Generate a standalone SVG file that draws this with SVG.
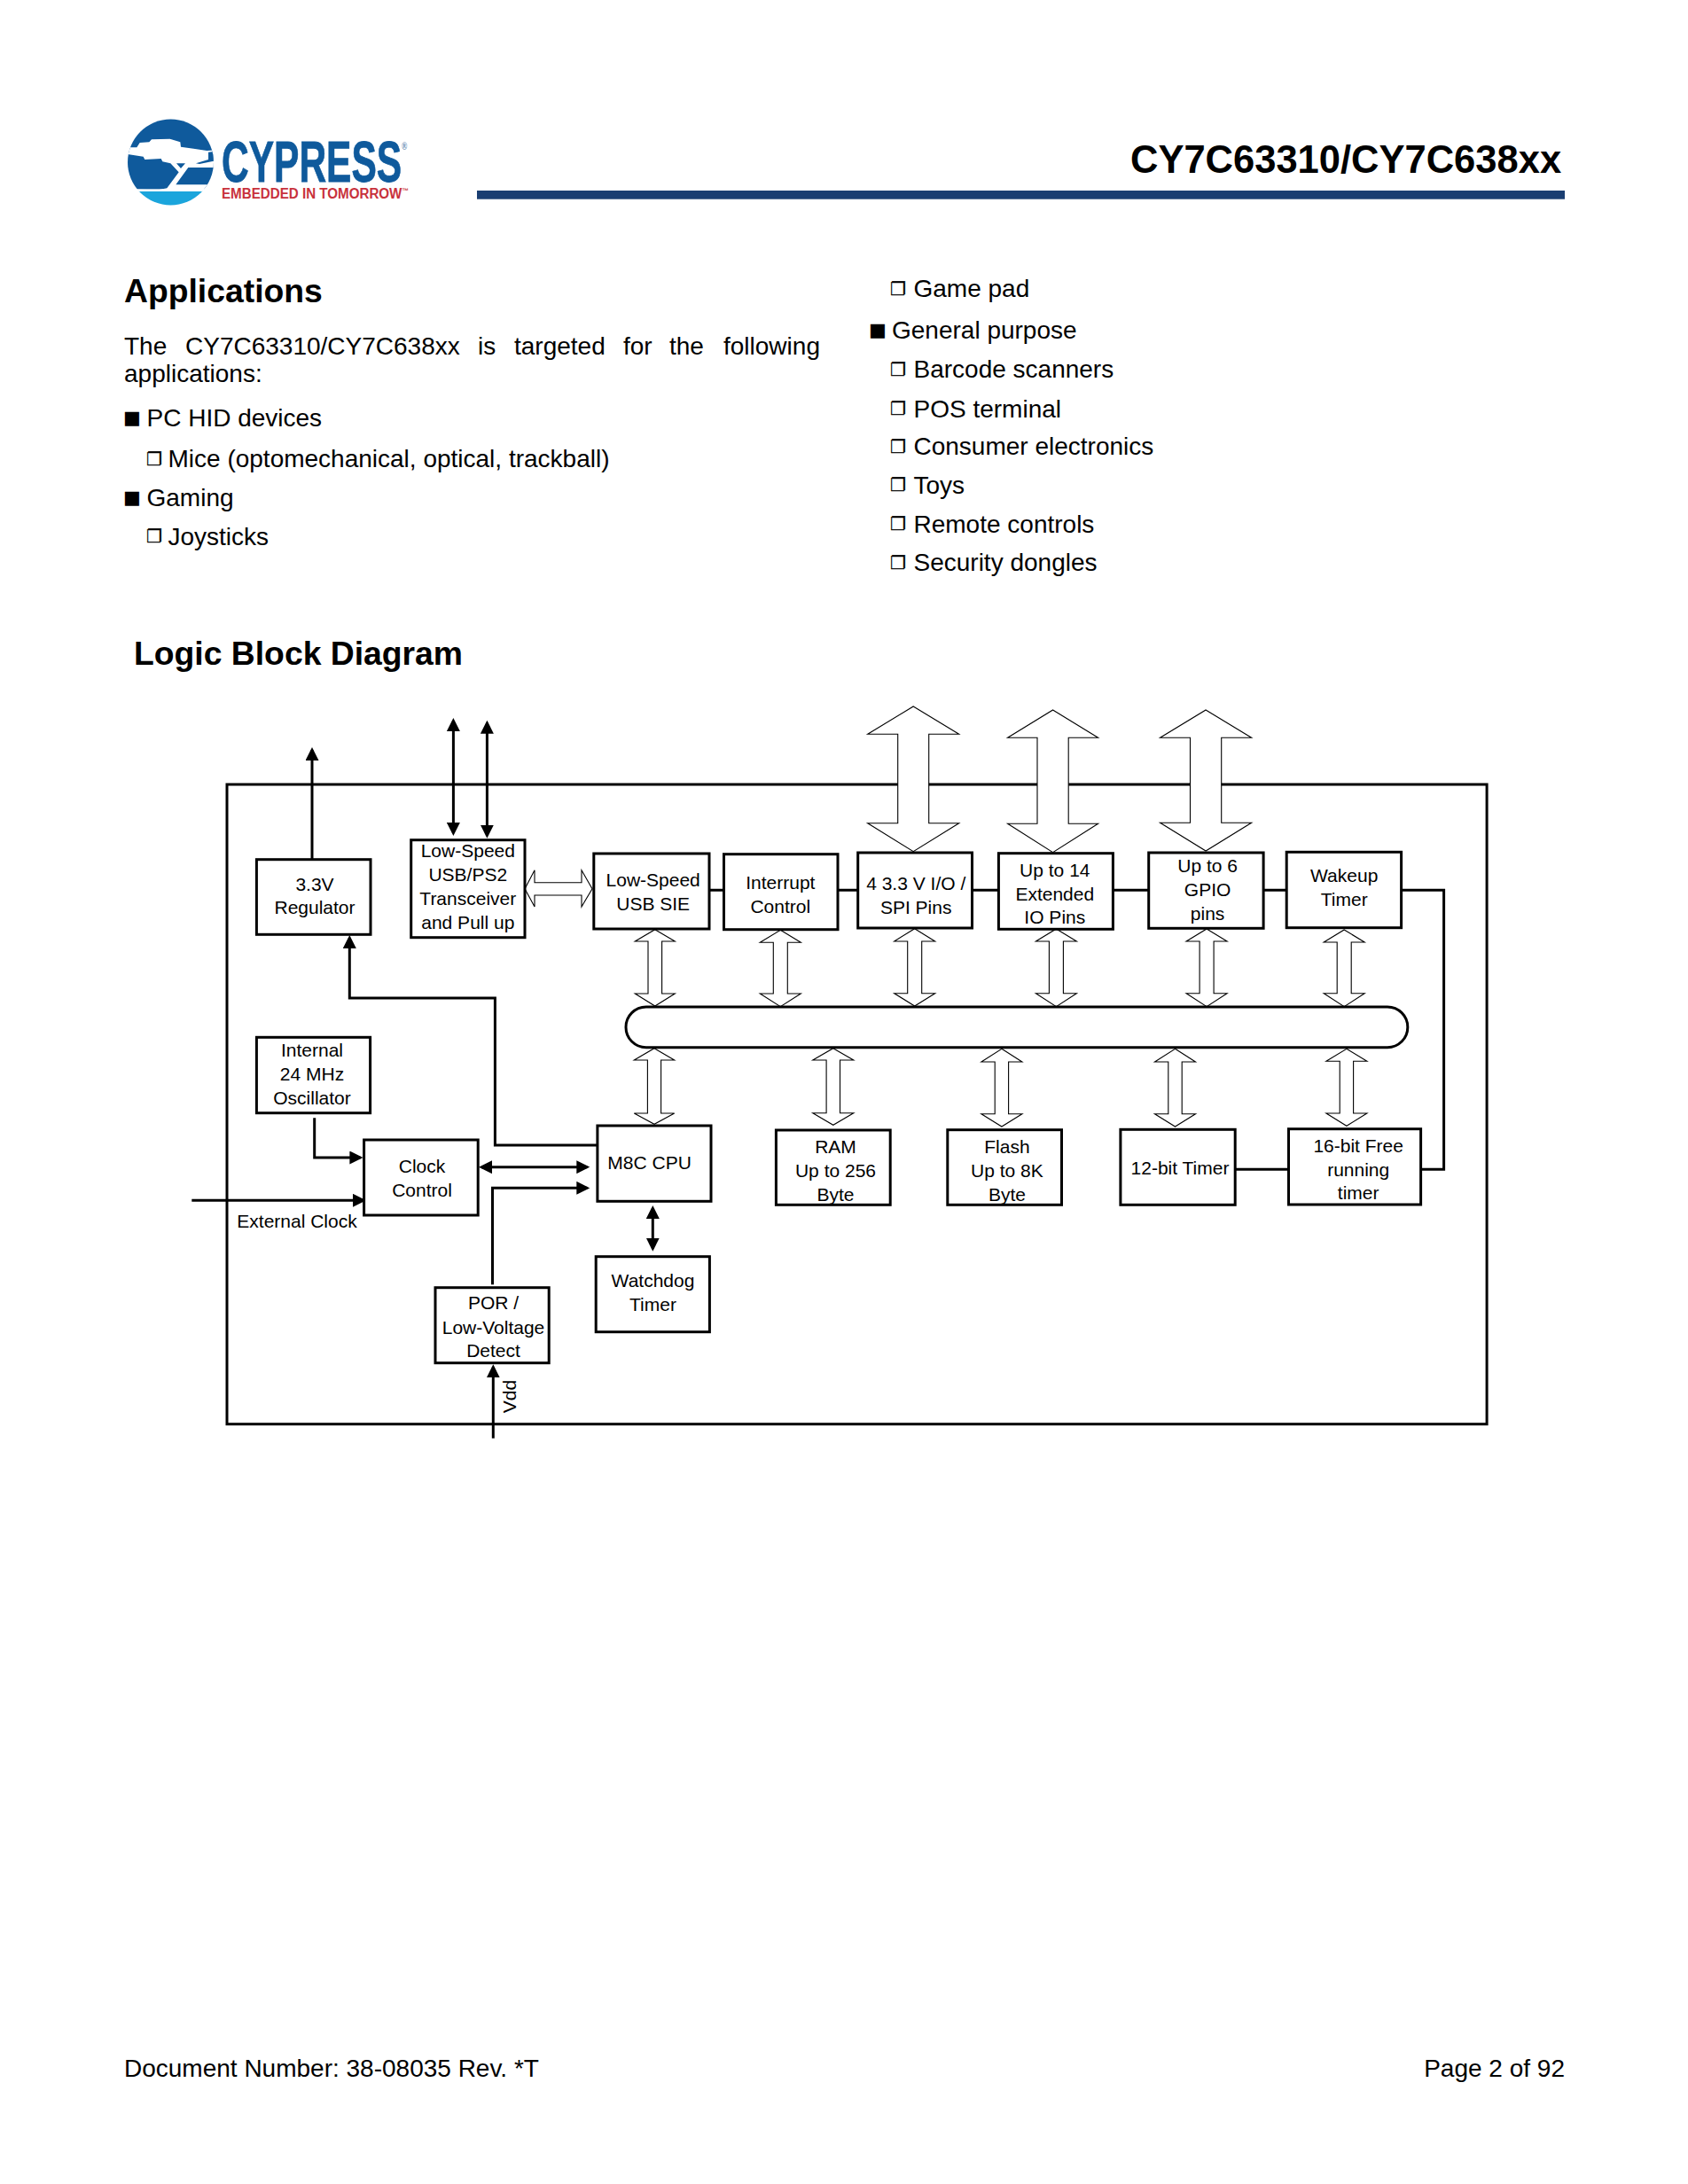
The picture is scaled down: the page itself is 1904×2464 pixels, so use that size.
<svg xmlns="http://www.w3.org/2000/svg" width="1904" height="2464" viewBox="0 0 1904 2464">
<style>
text{font-family:"Liberation Sans",Arial,sans-serif;fill:#000}
.h{font-size:37.3px;font-weight:700;transform:translateY(1px)}
.b{font-size:28px;transform:translateY(.8px)}
.bl{font-family:"DejaVu Sans",sans-serif;font-size:21px}
.bo{font-family:"DejaVu Sans",sans-serif;font-size:20px;stroke:#000;stroke-width:.3}
.l{font-size:21px;text-anchor:middle;transform:translateY(-.5px)}
.n{fill:#fff;stroke:#000;stroke-width:3}
.c{fill:none;stroke:#000;stroke-width:3}
.a{marker-end:url(#ah)}
.d{marker-start:url(#ah);marker-end:url(#ah)}
.w{fill:#fff;stroke:#000;stroke-width:1.1;stroke-linejoin:miter}
</style>
<defs>
<marker id="ah" viewBox="0 0 15 15" refX="12" refY="7.5" markerWidth="15" markerHeight="15" markerUnits="userSpaceOnUse" orient="auto-start-reverse"><path d="M0 0L15 7.5L0 15z" fill="#000"/></marker>
<clipPath id="lc"><circle cx="172.5" cy="174" r="145.5"/></clipPath>
</defs>
<rect width="1904" height="2464" fill="#fff"/>

<g id="page-header">
<g id="logo">
<g transform="translate(135 125) scale(.33333)" clip-path="url(#lc)">
<rect x="0" y="0" width="345" height="265" fill="#0f5a9c"/>
<rect x="0" y="272" width="345" height="60" fill="#1ba5dc"/>
<path fill="#fff" d="M20 124L58 124L68 108L100 106L108 97L170 95L205 106L207 122L250 128L295 135L325 133L325 192L232 192L190 250L325 250L325 272L0 272L0 265L130 268L160 262L200 208L172 178L145 172L140 162L85 165L80 155L20 146z"/>
<path fill="#0f5a9c" d="M192 178L222 178L207 195zM258 178L300 165L300 140L318 138L318 170L270 180z"/>
</g>
<text x="250" y="205" font-size="64" font-weight="700" stroke="#0f5a9c" stroke-width=".8" style="fill:#0f5a9c" textLength="209" lengthAdjust="spacingAndGlyphs">CYPRESS<tspan font-size="12" dy="-36" stroke="none" style="fill:#6b8fb5">®</tspan></text>
<text x="250" y="224.3" font-size="16" font-weight="700" style="fill:#c8323c" textLength="211" lengthAdjust="spacingAndGlyphs">EMBEDDED IN TOMORROW<tspan font-size="8" dy="-6">™</tspan></text>
</g>
<text x="1275" y="194.6" font-size="43.5" font-weight="700">CY7C63310/CY7C638xx</text>
<rect x="538" y="215" width="1227" height="9.7" fill="#1a3e72"/>
</g>

<g id="page-text">
<text class="h" x="140" y="340">Applications</text>
<text class="b" y="399.3"><tspan x="140">The</tspan><tspan x="209">CY7C63310/CY7C638xx</tspan><tspan x="539">is</tspan><tspan x="580">targeted</tspan><tspan x="703">for</tspan><tspan x="755">the</tspan><tspan x="816">following</tspan></text>
<text class="b" x="140" y="430">applications:</text>
<text class="bl" x="139" y="478">■</text><text class="b" x="165.5" y="480">PC HID devices</text>
<text class="bo" x="165" y="525">❐</text><text class="b" x="189.5" y="526.7">Mice (optomechanical, optical, trackball)</text>
<text class="bl" x="139" y="568">■</text><text class="b" x="165.5" y="570">Gaming</text>
<text class="bo" x="165" y="612">❐</text><text class="b" x="189.5" y="614">Joysticks</text>
<text class="bo" x="1004" y="332.5">❐</text><text class="b" x="1030.5" y="334.3">Game pad</text>
<text class="bl" x="980" y="379">■</text><text class="b" x="1006" y="381">General purpose</text>
<text class="bo" x="1004" y="424">❐</text><text class="b" x="1030.5" y="425.7">Barcode scanners</text>
<text class="bo" x="1004" y="468">❐</text><text class="b" x="1030.5" y="470">POS terminal</text>
<text class="bo" x="1004" y="511">❐</text><text class="b" x="1030.5" y="512.7">Consumer electronics</text>
<text class="bo" x="1004" y="554">❐</text><text class="b" x="1030.5" y="556">Toys</text>
<text class="bo" x="1004" y="598">❐</text><text class="b" x="1030.5" y="600">Remote controls</text>
<text class="bo" x="1004" y="641.5">❐</text><text class="b" x="1030.5" y="643.3">Security dongles</text>
<text class="h" x="151" y="749.3">Logic Block Diagram</text>
<text class="b" x="140" y="2342.5">Document Number: 38-08035 Rev. *T</text>
<text class="b" x="1765" y="2342.5" text-anchor="end">Page 2 of 92</text>
</g>

<g id="chip-boundary"><rect class="c" x="256" y="885" width="1421.1" height="721.7"/></g>

<g id="connectors">
<path class="c a" d="M352 969V846"/>
<path class="c d" d="M511.4 813V940"/>
<path class="c d" d="M549.4 815.7V942.7"/>
<path class="c a" d="M673 1292H558.4V1126H394.3V1058"/>
<path class="c a" d="M354.7 1261.3V1306H406.4"/>
<path class="c a" d="M216.3 1354.3H410"/>
<path class="c d" d="M543 1316.7H662.3"/>
<path class="c a" d="M555.5 1449.3V1340.3H662.3"/>
<path class="c d" d="M736.3 1363V1408.7"/>
<path class="c a" d="M556.3 1622.7V1542.3"/>
<path class="c" d="M800 1004.3H816.5M945 1004.3H967.7M1096.4 1004.3H1126.4M1255.4 1004.3H1295.7M1425 1004.3H1451.2"/>
<path class="c" d="M1580.5 1004.3H1628.6V1319.3H1602.5"/>
<path class="c" d="M1393.1 1319.3H1453.5"/>
<polygon class="w" transform="translate(-.3 0)" points="1030.5,797 1082,828.3 1048,828.3 1048,928.7 1082,928.7 1030.5,960.7 979,928.7 1013,928.7 1013,828.3 979,828.3"/>
<polygon class="w" transform="translate(-.6 0)" points="1188.2,801 1239.2,832.3 1205.8,832.3 1205.8,929.3 1239.2,929.3 1188.2,961.7 1137.2,929.3 1170.6,929.3 1170.6,832.3 1137.2,832.3"/>
<polygon class="w" transform="translate(-.9 0)" points="1361,801 1412.5,832.3 1378.6,832.3 1378.6,928.3 1412.5,928.3 1361,960 1309.5,928.3 1343.4,928.3 1343.4,832.3 1309.5,832.3"/>
<polygon class="w" points="592,1002.7 603,981.7 603,995.7 656,995.7 656,981.7 668,1002.7 656,1023 656,1010 603,1010 603,1023"/>
<polygon class="w" points="738.8,1048.7 761.3,1062 746.6,1062 746.6,1121 761.3,1121 738.8,1135 716.3,1121 731,1121 731,1062 716.3,1062"/>
<polygon class="w" points="880.3,1049.3 903.3,1063.3 888.3,1063.3 888.3,1121 903.3,1121 880.3,1135.7 857.3,1121 872.3,1121 872.3,1063.3 857.3,1063.3"/>
<polygon class="w" transform="translate(-.3 0)" points="1032,1047.7 1055,1062 1040,1062 1040,1120.7 1055,1120.7 1032,1135 1009,1120.7 1024,1120.7 1024,1062 1009,1062"/>
<polygon class="w" transform="translate(-.6 0)" points="1192,1048 1215,1062 1200,1062 1200,1120.7 1215,1120.7 1192,1135.7 1169,1120.7 1184,1120.7 1184,1062 1169,1062"/>
<polygon class="w" transform="translate(-.9 0)" points="1362,1048 1385,1062 1370,1062 1370,1120.7 1385,1120.7 1362,1135.7 1339,1120.7 1354,1120.7 1354,1062 1339,1062"/>
<polygon class="w" transform="translate(-1.1 0)" points="1517.3,1049 1540.3,1063 1525.3,1063 1525.3,1120.7 1540.3,1120.7 1517.3,1135.7 1494.3,1120.7 1509.3,1120.7 1509.3,1063 1494.3,1063"/>
<polygon class="w" points="738,1182.7 760.7,1196 745.6,1196 745.6,1256 760.7,1256 738,1268.3 715.3,1256 730.4,1256 730.4,1196 715.3,1196"/>
<polygon class="w" transform="translate(-.2 0)" points="940,1182.7 963,1196 947.7,1196 947.7,1255.7 963,1255.7 940,1269.3 917,1255.7 932.3,1255.7 932.3,1196 917,1196"/>
<polygon class="w" transform="translate(-.5 0)" points="1130.4,1183.3 1153.4,1198 1138.1,1198 1138.1,1256.7 1153.4,1256.7 1130.4,1271 1107.4,1256.7 1122.7,1256.7 1122.7,1198 1107.4,1198"/>
<polygon class="w" transform="translate(-.8 0)" points="1326.3,1183.3 1349.3,1198 1334,1198 1334,1256.7 1349.3,1256.7 1326.3,1271 1303.3,1256.7 1318.6,1256.7 1318.6,1198 1303.3,1198"/>
<polygon class="w" transform="translate(-1.1 0)" points="1520,1183.3 1543,1197.3 1527.7,1197.3 1527.7,1256 1543,1256 1520,1270.3 1497,1256 1512.3,1256 1512.3,1197.3 1497,1197.3"/>
</g>

<g id="node-bus"><rect class="n" x="706" y="1136" width="881.8" height="45.7" rx="22.8" ry="22.8"/></g>

<g id="node-regulator"><rect class="n" x="289.4" y="969.7" width="128.6" height="84.6"/><text class="l" x="355" y="1005">3.3V</text><text class="l" x="355" y="1031.7">Regulator</text></g>
<g id="node-transceiver"><rect class="n" x="463.7" y="947.7" width="128.3" height="110"/><text class="l" x="527.8" y="967.3">Low-Speed</text><text class="l" x="527.8" y="994">USB/PS2</text><text class="l" x="527.8" y="1021.3">Transceiver</text><text class="l" x="527.8" y="1048">and Pull up</text></g>
<g id="node-sie"><rect class="n" x="669.8" y="963" width="130.2" height="85"/><text class="l" x="736.7" y="1000.7">Low-Speed</text><text class="l" x="736.7" y="1027.3">USB SIE</text></g>
<g id="node-interrupt"><rect class="n" x="816.5" y="963.7" width="128.5" height="85"/><text class="l" x="880.3" y="1003.3">Interrupt</text><text class="l" x="880.3" y="1030">Control</text></g>
<g id="node-io" transform="translate(-.3 0)"><rect class="n" x="968" y="962" width="128.8" height="85"/><text class="l" x="1033.5" y="1004.3">4 3.3 V I/O /</text><text class="l" x="1033.5" y="1031">SPI Pins</text></g>
<g id="node-ext-io" transform="translate(-.6 0)"><rect class="n" x="1127" y="962.7" width="129" height="85.6"/><text class="l" x="1190.4" y="989">Up to 14</text><text class="l" x="1190.4" y="1016">Extended</text><text class="l" x="1190.4" y="1042.7">IO Pins</text></g>
<g id="node-gpio" transform="translate(-.9 0)"><rect class="n" x="1296.6" y="962" width="129.4" height="85.3"/><text class="l" x="1363" y="984">Up to 6</text><text class="l" x="1363" y="1011.3">GPIO</text><text class="l" x="1363" y="1038.3">pins</text></g>
<g id="node-wakeup" transform="translate(-1.1 0)"><rect class="n" x="1452.3" y="961.3" width="129.4" height="85.4"/><text class="l" x="1517.3" y="995.7">Wakeup</text><text class="l" x="1517.3" y="1022.3">Timer</text></g>
<g id="node-oscillator"><rect class="n" x="289.4" y="1170.3" width="128.2" height="85.4"/><text class="l" x="352" y="1192.7">Internal</text><text class="l" x="352" y="1219.3">24 MHz</text><text class="l" x="352" y="1246.3">Oscillator</text></g>
<g id="node-clock"><rect class="n" x="410.6" y="1286" width="128.6" height="85"/><text class="l" x="476" y="1323.3">Clock</text><text class="l" x="476" y="1350">Control</text></g>
<g id="node-cpu"><rect class="n" x="673.9" y="1270" width="128.1" height="85.3"/><text class="l" x="732.6" y="1319.3">M8C CPU</text></g>
<g id="node-watchdog"><rect class="n" x="672.2" y="1417.7" width="128.2" height="85"/><text class="l" x="736.5" y="1452.7">Watchdog</text><text class="l" x="736.5" y="1479">Timer</text></g>
<g id="node-por"><rect class="n" x="491" y="1452.7" width="128.2" height="85"/><text class="l" x="556.5" y="1477.3">POR /</text><text class="l" x="556.5" y="1505">Low-Voltage</text><text class="l" x="556.5" y="1531.3">Detect</text></g>
<g id="node-ram" transform="translate(-.2 0)"><rect class="n" x="875.6" y="1275" width="128.8" height="84.3"/><text class="l" x="942.7" y="1301">RAM</text><text class="l" x="942.7" y="1328.3">Up to 256</text><text class="l" x="942.7" y="1355">Byte</text></g>
<g id="node-flash" transform="translate(-.5 0)"><rect class="n" x="1069.3" y="1274.7" width="128.7" height="84.6"/><text class="l" x="1136.4" y="1301">Flash</text><text class="l" x="1136.4" y="1328.3">Up to 8K</text><text class="l" x="1136.4" y="1355">Byte</text></g>
<g id="node-timer12" transform="translate(-.8 0)"><rect class="n" x="1264.7" y="1274.3" width="129.3" height="85"/><text class="l" x="1331.8" y="1325.7">12-bit Timer</text></g>
<g id="node-timer16" transform="translate(-1.1 0)"><rect class="n" x="1454.6" y="1273.7" width="149.1" height="85.3"/><text class="l" x="1533.3" y="1300">16-bit Free</text><text class="l" x="1533.3" y="1327">running</text><text class="l" x="1533.3" y="1353.7">timer</text></g>

<g id="outside-labels">
<text x="267.3" y="1385" font-size="21">External Clock</text>
<text font-size="21" transform="translate(582 1594.3) rotate(-90)">Vdd</text>
</g>
</svg>
